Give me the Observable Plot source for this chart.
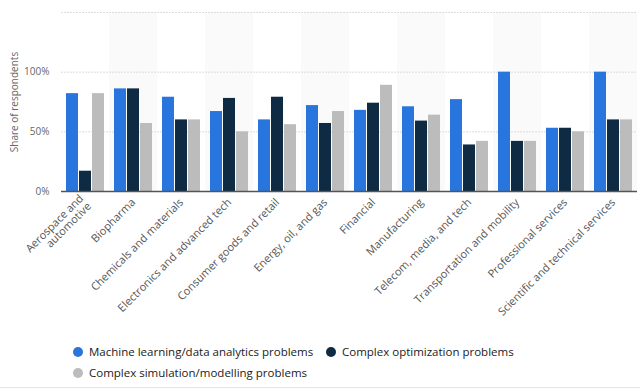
<!DOCTYPE html>
<html>
<head>
<meta charset="utf-8">
<script src="https://cdn.jsdelivr.net/npm/d3@7"></script>
<script src="https://cdn.jsdelivr.net/npm/@observablehq/plot@0.6"></script>
<style>
  body { margin: 0; background: #fff; font-family: "Open Sans", sans-serif; }
  #wrap { position: relative; width: 640px; height: 389px; overflow: hidden; }
  #legend { position: absolute; left: 73px; top: 344px; width: 560px; font-size: 11.5px; color: #1a1a1a; }
  .item { position: absolute; white-space: nowrap; display: flex; align-items: center; }
  .dot { width: 10px; height: 10px; border-radius: 50%; display: inline-block; margin-right: 6px; }
  #bottomline { position: absolute; left: 0; top: 387px; width: 640px; height: 1px; background: #e6e6e6; }
</style>
</head>
<body>
<div id="wrap">
  <div id="chart"></div>
  <div id="legend"></div>
  <div id="bottomline"></div>
</div>
<script>
const categories = [
  "Aerospace and\nautomotive", "Biopharma", "Chemicals and materials", "Electronics and advanced tech",
  "Consumer goods and retail", "Energy, oil, and gas", "Financial", "Manufacturing",
  "Telecom, media, and tech", "Transportation and mobility", "Professional services",
  "Scientific and technical services"
];
const seriesNames = [
  "Machine learning/data analytics problems",
  "Complex optimization problems",
  "Complex simulation/modelling problems"
];
const seriesColors = ["#2876dd", "#0f2a43", "#bcbcbc"];
const machineLearning = [82, 86, 79, 67, 60, 72, 68, 71, 77, 100, 53, 100];
const optimization    = [17, 86, 60, 78, 79, 57, 74, 59, 39, 42, 53, 60];
const simulation      = [82, 57, 60, 50, 56, 67, 89, 64, 42, 42, 50, 60];
const yTicks = [0, 50, 100];
const yGrid = [50, 100, 150];

const seriesValues = [machineLearning, optimization, simulation];
const data = [];
categories.forEach((c, i) => {
  seriesNames.forEach((s, j) => data.push({category: c, series: s, value: seriesValues[j][i]}));
});
const shaded = categories.filter((c, i) => i % 2 === 1);

const chart = Plot.plot({
  width: 640,
  height: 330,
  marginLeft: 61,
  marginRight: 3,
  marginTop: 12,
  marginBottom: 139,
  style: { fontFamily: "Open Sans, sans-serif", fontSize: "10px", color: "#666" },
  fx: {
    domain: categories, padding: 0, label: null,
    tickRotate: -45, tickSize: 0, tickPadding: 9
  },
  x: { domain: seriesNames, paddingInner: 0.09, paddingOuter: 0.27, axis: null },
  y: {
    domain: [0, 150], ticks: yTicks, tickFormat: d => d + "%", tickSize: 0, tickPadding: 12,
    label: "Share of respondents", labelAnchor: "center", labelArrow: "none", labelOffset: 51
  },
  color: { domain: seriesNames, range: seriesColors },
  marks: [
    Plot.rect(shaded, { fx: d => d, y1: 0, y2: 150, fill: "#fafafa" }),
    Plot.ruleY(yGrid, { stroke: "#dcdcdc", strokeDasharray: "2,1", strokeWidth: 1 }),
    Plot.barY(data, { fx: "category", x: "series", y: "value", fill: "series" }),
    Plot.ruleY([0], { stroke: "#555", strokeWidth: 1.5 })
  ]
});
chart.querySelectorAll("g[aria-label='fx-axis tick label'] text").forEach(t => {
  t.style.fontSize = "11px";
  t.style.fill = "#555";
});
document.getElementById("chart").appendChild(chart);

const legend = document.getElementById("legend");
const pos = [[0, 0], [253, 0], [0, 21]];
seriesNames.forEach((s, i) => {
  const it = document.createElement("div");
  it.className = "item";
  it.style.left = pos[i][0] + "px";
  it.style.top = pos[i][1] + "px";
  it.innerHTML = `<span class="dot" style="background:${seriesColors[i]}"></span><span>${s}</span>`;
  legend.appendChild(it);
});
</script>
</body>
</html>
